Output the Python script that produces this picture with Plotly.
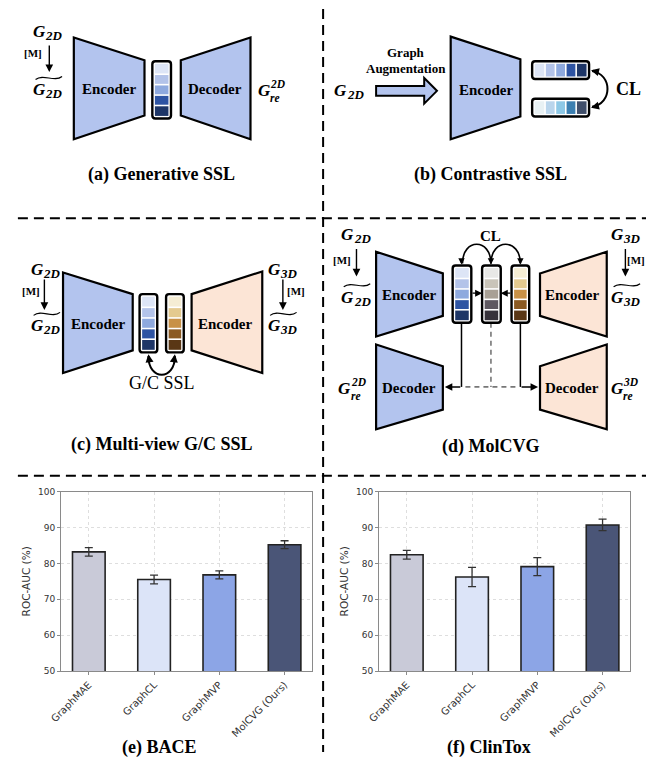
import plotly.graph_objects as go

W, H = 646, 761

# ---------------- data ----------------
methods = ['GraphMAE', 'GraphCL', 'GraphMVP', 'MolCVG (Ours)']
bace_auc = [83.2, 75.5, 76.8, 85.2]
bace_err = [1.2, 1.2, 1.1, 1.1]
clintox_auc = [82.4, 76.2, 79.1, 90.7]
clintox_err = [1.2, 2.7, 2.5, 1.6]
bar_colors = ['#c9cad8', '#dce4f8', '#8ca5e6', '#4a5577']
y_ticks = [50, 60, 70, 80, 90, 100]

panel_titles = ['(a) Generative SSL', '(b) Contrastive SSL', '(c) Multi-view G/C SSL',
                '(d) MolCVG', '(e) BACE', '(f) ClinTox']

BLUE_V = ['#dde5f6', '#b3c3e9', '#8ea9de', '#2e54a3', '#1e3667']
SKY_V = ['#e8f1f4', '#b9d5ec', '#8dc8e6', '#3b7fb1', '#404f6b']
BROWN_V = ['#f5edd4', '#e4ca8f', '#c89147', '#8b5a22', '#5a3715']
GRAY_V = ['#e8e8e6', '#c9c4b9', '#a8a095', '#5f5961', '#37323a']
BLUE_F = '#b3c4ee'
PEACH_F = '#fce5d6'

SERIF = 'Liberation Serif, Times New Roman, serif'
SANS = 'DejaVu Sans, sans-serif'


def X(x):
    return x / W


def Y(y):
    return 1 - y / H


shapes = []
annots = []


def P(x, y):
    return f'{X(x):.5f},{Y(y):.5f}'


def poly(pts, fill, line='black', width=2.2):
    d = 'M ' + ' L '.join(P(x, y) for x, y in pts) + ' Z'
    shapes.append(dict(type='path', path=d, xref='paper', yref='paper',
                       fillcolor=fill, line=dict(color=line, width=width), layer='above'))


def curve(d_pts, color='black', width=2, dash='solid'):
    d = ' '.join(cmd + ' ' + ' '.join(P(x, y) for x, y in pts) for cmd, pts in d_pts)
    shapes.append(dict(type='path', path=d, xref='paper', yref='paper',
                       line=dict(color=color, width=width, dash=dash), layer='above'))


def seg(x0, y0, x1, y1, color='black', width=1.5, dash='solid'):
    shapes.append(dict(type='line', x0=X(x0), y0=Y(y0), x1=X(x1), y1=Y(y1),
                       xref='paper', yref='paper', line=dict(color=color, width=width, dash=dash),
                       layer='above'))


def rect(x0, y0, x1, y1, fill):
    shapes.append(dict(type='rect', x0=X(x0), y0=Y(y0), x1=X(x1), y1=Y(y1),
                       xref='paper', yref='paper', fillcolor=fill, line=dict(width=0), layer='above'))


def rrect(x0, y0, x1, y1, r=3, width=2.4):
    d = (f'M {P(x0 + r, y0)} L {P(x1 - r, y0)} Q {P(x1, y0)} {P(x1, y0 + r)} '
         f'L {P(x1, y1 - r)} Q {P(x1, y1)} {P(x1 - r, y1)} L {P(x0 + r, y1)} '
         f'Q {P(x0, y1)} {P(x0, y1 - r)} L {P(x0, y0 + r)} Q {P(x0, y0)} {P(x0 + r, y0)} Z')
    shapes.append(dict(type='path', path=d, xref='paper', yref='paper',
                       line=dict(color='black', width=width), layer='above'))


def vvec(x0, y0, x1, y1, cols):
    ins = 2.6
    n = len(cols)
    h = (y1 - y0 - 2 * ins) / n
    for i, c in enumerate(cols):
        rect(x0 + ins, y0 + ins + i * h + (0.8 if i else 0), x1 - ins,
             y0 + ins + (i + 1) * h - (0.8 if i < n - 1 else 0), c)
    rrect(x0, y0, x1, y1)


def hvec(x0, y0, x1, y1, cols):
    ins = 2.6
    n = len(cols)
    w = (x1 - x0 - 2 * ins) / n
    for i, c in enumerate(cols):
        rect(x0 + ins + i * w + (0.8 if i else 0), y0 + ins,
             x0 + ins + (i + 1) * w - (0.8 if i < n - 1 else 0), y1 - ins, c)
    rrect(x0, y0, x1, y1)


def text(x, y, s, size, bold=True, italic=False, xanchor='center', family=SERIF, color='black'):
    if italic:
        s = f'<i>{s}</i>'
    if bold:
        s = f'<b>{s}</b>'
    annots.append(dict(x=X(x), y=Y(y), xref='paper', yref='paper', text=s, showarrow=False,
                       font=dict(size=size, family=family, color=color),
                       xanchor=xanchor, yanchor='middle', borderpad=0))


def arrow(tipx, tipy, dx, dy, width=1.5, size=1.0, color='black'):
    annots.append(dict(x=X(tipx), y=Y(tipy), xref='paper', yref='paper', ax=dx, ay=dy,
                       showarrow=True, arrowhead=2, arrowsize=size, arrowwidth=width,
                       arrowcolor=color, text=''))


def tilde(x0, x1, y):
    w = x1 - x0
    curve([('M', [(x0, y + 1.5)]),
           ('C', [(x0 + 0.3 * w, y - 5), (x0 + 0.7 * w, y + 5), (x1, y - 1.5)])],
          width=1.1)


def gsym(gx, gy, sub=None, sup=None, til=False):
    text(gx, gy, 'G', 17, italic=True)
    r = gx + 5
    if sup:
        text(r, gy - 7, sup, 11.5, italic=True, xanchor='left')
        text(r, gy + 7, sub, 11.5, italic=True, xanchor='left')
    else:
        text(r, gy + 4, sub, 13, italic=True, xanchor='left')
    if til:
        tilde(gx - 4, r + 18, gy - 12)


def mask_arrow(ax_, y0, y1, mx, my):
    arrow(ax_, y1, 0, -(y1 - y0), width=1.4, size=1.1)
    text(mx, my, '[M]', 11)


# ---------------- separators ----------------
seg(317, 4, 317, 757, width=2, dash='10px,6px')
seg(6, 216, 646, 216, width=2, dash='10px,6px')
seg(6, 477, 646, 477, width=2, dash='10px,6px')

# ---------------- (a) Generative SSL ----------------
gsym(28, 27, sub='2D')
mask_arrow(38, 40, 68, 21, 49)
gsym(28, 86, sub='2D', til=True)
poly([(63, 33), (135, 56), (135, 112), (63, 136)], BLUE_F)
text(99, 85, 'Encoder', 15)
vvec(143, 57, 162, 115, BLUE_V)
poly([(172, 56), (243, 33), (243, 136), (172, 112)], BLUE_F)
text(207, 85, 'Decoder', 15)
gsym(257, 87, sub='re', sup='2D')

# ---------------- (b) Contrastive SSL ----------------
gsym(335, 87, sub='2D')
text(401, 48, 'Graph', 13)
text(401, 64, 'Augmentation', 13)
poly([(371, 82), (420, 82), (420, 74), (433, 87), (420, 100), (420, 92), (371, 92)], BLUE_F, width=2)
poly([(447, 32), (518, 55), (518, 113), (447, 136)], BLUE_F)
text(483, 86, 'Encoder', 15)
hvec(530, 57, 588, 75, BLUE_V)
hvec(530, 95, 588, 113, SKY_V)
curve([('M', [(591, 67)]), ('C', [(612, 70), (612, 100), (591, 103)])], width=2)
arrow(590, 66, 8, 2, width=2, size=0.8)
arrow(590, 104, 8, -2, width=2, size=0.8)
text(628, 85, 'CL', 18)

# ---------------- (c) Multi-view G/C SSL ----------------
gsym(26, 268, sub='2D')
mask_arrow(33, 277, 309, 19, 290)
gsym(26, 325, sub='2D', til=True)
poly([(52, 271), (123, 293), (123, 350), (52, 373)], BLUE_F)
text(88, 323, 'Encoder', 15)
vvec(130, 293, 148, 352, BLUE_V)
vvec(157, 293, 175, 352, BROWN_V)
curve([('M', [(139, 356)]), ('C', [(139, 381), (166, 381), (166, 356)])], width=2)
arrow(139, 354, 1, 7, width=2, size=0.8)
arrow(166, 354, -1, 7, width=2, size=0.8)
text(153, 383, 'G/C SSL', 18, bold=False)
poly([(183, 293), (255, 270), (255, 373), (183, 350)], PEACH_F)
text(218, 323, 'Encoder', 15)
gsym(267, 268, sub='3D')
mask_arrow(276, 277, 309, 289, 290)
gsym(267, 325, sub='3D', til=True)

# ---------------- (d) MolCVG ----------------
gsym(342, 233, sub='2D')
mask_arrow(351, 246, 275, 336, 258)
gsym(342, 296, sub='2D', til=True)
poly([(371, 250), (439, 272), (439, 315), (371, 336)], BLUE_F)
text(405, 294, 'Encoder', 15)
poly([(371, 344), (439, 366), (439, 410), (371, 430)], BLUE_F)
text(405, 388, 'Decoder', 15)
gsym(339, 389, sub='re', sup='2D')

seg(488, 322, 488, 387, color='#777', width=1.6, dash='5px,4px')
seg(462, 387, 516, 387, color='#777', width=1.6, dash='5px,4px')
seg(458, 322, 458, 387, width=1.5)
arrow(441, 387, 17, 0, width=1.5, size=1.0)
seg(518, 322, 518, 387, width=1.5)
arrow(536, 387, -18, 0, width=1.5, size=1.0)
arrow(479, 292, -11, 0, width=1.4, size=1.0)
arrow(498, 292, 11, 0, width=1.4, size=1.0)

vvec(449, 264, 468, 322, BLUE_V)
vvec(479, 264, 498, 322, GRAY_V)
vvec(509, 264, 527, 322, BROWN_V)

curve([('M', [(459, 262)]), ('C', [(459, 236), (488, 236), (488, 262)])], width=1.6)
curve([('M', [(488, 262)]), ('C', [(488, 236), (518, 236), (518, 262)])], width=1.6)
arrow(458, 263, 0, -7, width=1.6, size=0.8)
arrow(488, 263, 0, -7, width=1.6, size=0.8)
arrow(518, 263, 0, -7, width=1.6, size=0.8)
text(488, 234, 'CL', 15)

poly([(538, 272), (606, 250), (606, 336), (538, 315)], PEACH_F)
text(571, 294, 'Encoder', 15)
poly([(538, 366), (606, 344), (606, 430), (538, 410)], PEACH_F)
text(571, 388, 'Decoder', 15)
gsym(617, 233, sub='3D')
mask_arrow(625, 246, 275, 636, 258)
gsym(617, 296, sub='3D', til=True)
gsym(617, 389, sub='re', sup='3D')

# ---------------- titles ----------------
title_pos = [(152, 172), (488, 172), (153, 445), (488, 447), (150, 752), (486, 752)]
for (tx, ty), t in zip(title_pos, panel_titles):
    text(tx, ty, t, 18)

# ---------------- bar charts ----------------
fig = go.Figure()
for i, (vals, errs) in enumerate([(bace_auc, bace_err), (clintox_auc, clintox_err)]):
    fig.add_trace(go.Bar(
        x=methods, y=vals, width=0.5,
        marker=dict(color=bar_colors, line=dict(color='#222222', width=1.6)),
        error_y=dict(type='data', array=errs, color='#333333', thickness=1.3, width=4),
        xaxis='x' if i == 0 else 'x2', yaxis='y' if i == 0 else 'y2',
        showlegend=False, hoverinfo='skip'))

ax_common = dict(showline=True, mirror=True, linecolor='#8a8a8a', linewidth=1,
                 showgrid=True, gridcolor='#dedede', griddash='dot', gridwidth=0.8,
                 ticks='outside', ticklen=3, tickcolor='#8a8a8a', zeroline=False)
xa = dict(ax_common, range=[-0.425, 3.425], tickangle=-45,
          tickfont=dict(family=SANS, size=10, color='#333333'))
ya = dict(ax_common, range=[50, 100], tickvals=y_ticks,
          tickfont=dict(family=SANS, size=9, color='#333333'),
          title=dict(text='ROC-AUC (%)', font=dict(family=SANS, size=10.5, color='#333333'), standoff=5))

fig.update_layout(
    width=W, height=H, margin=dict(l=0, r=0, t=0, b=0),
    paper_bgcolor='white', plot_bgcolor='white', showlegend=False,
    xaxis=dict(xa, domain=[X(50), X(306)], anchor='y'),
    yaxis=dict(ya, domain=[Y(675), Y(493)], anchor='x'),
    xaxis2=dict(xa, domain=[X(374), X(630)], anchor='y2'),
    yaxis2=dict(ya, domain=[Y(675), Y(493)], anchor='x2'),
    shapes=shapes, annotations=annots,
)

fig.write_html('out.html', config={'displayModeBar': False},
               post_script="document.body.style.margin='0px';")
